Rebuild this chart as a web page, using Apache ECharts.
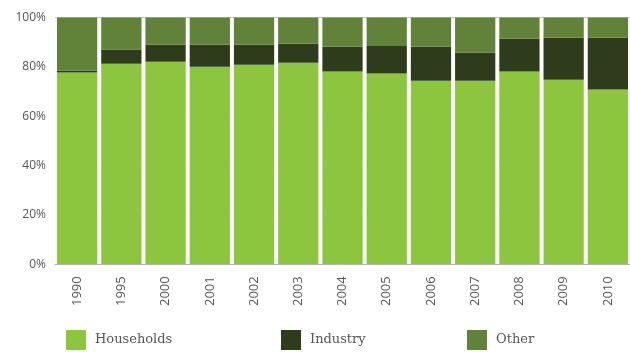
<!DOCTYPE html>
<html>
<head>
<meta charset="utf-8">
<script src="https://cdn.jsdelivr.net/npm/echarts@6/dist/echarts.min.js"></script>
<style>
  html, body { margin: 0; padding: 0; background: #fff; }
  #chart { width: 630px; height: 352px; }
</style>
</head>
<body>
<div id="chart"></div>
<script>
// Share of consumption by sector, percent of total
const years = ['1990', '1995', '2000', '2001', '2002', '2003', '2004', '2005', '2006', '2007', '2008', '2009', '2010'];
const households = [77.7, 81.3, 82.1, 80.0, 80.9, 81.7, 78.1, 77.3, 74.4, 74.4, 78.1, 74.8, 70.8];
const industry   = [0.8, 5.7, 6.9, 9.0, 8.1, 7.7, 10.0, 11.2, 13.7, 11.4, 13.3, 17.0, 21.0];
const other      = [21.5, 13.0, 11.0, 11.0, 11.0, 10.6, 11.9, 11.5, 11.9, 14.2, 8.6, 8.2, 8.2];
const yTicks = [0, 20, 40, 60, 80, 100];

const colors = { Households: '#8cc63f', Industry: '#2f3c1b', Other: '#618339' };
const axisFont = '"Open Sans", sans-serif';
const legendFont = '"DejaVu Serif", serif';

const chart = echarts.init(document.getElementById('chart'));

function legendAt(name, left) {
  return {
    data: [name],
    left: left,
    top: 330,
    padding: 0,
    itemWidth: 20,
    itemHeight: 20,
    itemGap: 0,
    icon: 'rect',
    textStyle: { fontFamily: legendFont, fontSize: 13, color: '#555', padding: [0, 0, 0, 4] },
    selectedMode: false
  };
}

function barSeries(name, data) {
  return {
    name: name,
    type: 'bar',
    stack: 'total',
    data: data,
    barCategoryGap: '9%',
    itemStyle: { color: colors[name] },
    emphasis: { disabled: true },
    z: 3
  };
}

// White full-width columns sit between the grid lines and the bars,
// so the inner grid lines stay hidden in the gaps between bars.
const backdrop = years.map(() => 99.6);

chart.setOption({
  animation: false,
  color: [colors.Households, colors.Industry, colors.Other],
  grid: { left: 55, right: 0, top: 17.5, bottom: 87.7, containLabel: false },
  legend: [
    legendAt('Households', 66),
    legendAt('Industry', 281),
    legendAt('Other', 467)
  ],
  xAxis: [
    {
      type: 'category',
      data: years,
      z: 5,
      axisTick: { show: false },
      axisLine: { show: true, lineStyle: { color: '#b5b5b5', width: 1 } },
      axisLabel: {
        rotate: 90,
        margin: 12,
        fontFamily: axisFont,
        fontSize: 13,
        color: '#555'
      }
    },
    {
      type: 'category',
      data: years,
      show: false
    }
  ],
  yAxis: {
    type: 'value',
    min: 0,
    max: 100,
    interval: 20,
    axisLine: { show: false },
    axisTick: { show: false },
    splitLine: { lineStyle: { color: '#c4c4c4', width: 1 } },
    axisLabel: {
      margin: 9,
      fontFamily: axisFont,
      fontSize: 12,
      color: '#555',
      formatter: v => (yTicks.includes(v) ? v + '%' : '')
    }
  },
  series: [
    {
      type: 'bar',
      xAxisIndex: 1,
      data: backdrop,
      barCategoryGap: 0,
      itemStyle: { color: '#ffffff' },
      silent: true,
      z: 1
    },
    barSeries('Households', households),
    barSeries('Industry', industry),
    barSeries('Other', other)
  ]
});
</script>
</body>
</html>
